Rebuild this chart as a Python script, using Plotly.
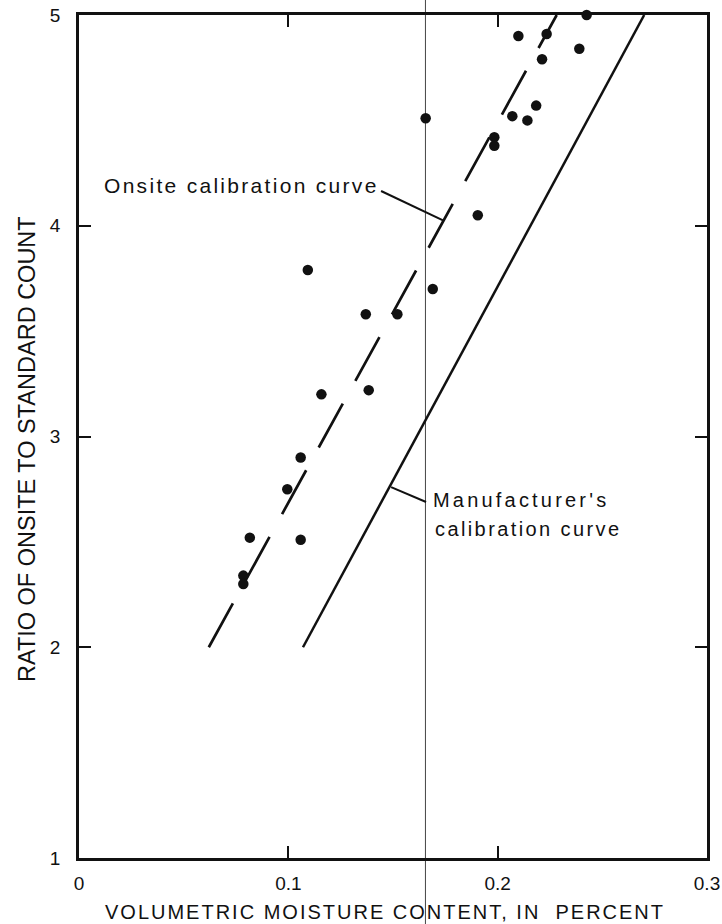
import plotly.graph_objects as go

# Measured points: volumetric moisture content vs. count ratio
moisture = [0.2425, 0.2099, 0.2234, 0.2390, 0.2212, 0.2184, 0.2070, 0.2142,
            0.1656, 0.1984, 0.1984, 0.1905, 0.1690, 0.1093, 0.1370, 0.1521,
            0.1158, 0.1384, 0.1059, 0.0995, 0.0816, 0.1059, 0.0785, 0.0785]
ratio = [5.00, 4.90, 4.91, 4.84, 4.79, 4.57, 4.52, 4.50,
         4.51, 4.42, 4.38, 4.05, 3.70, 3.79, 3.58, 3.58,
         3.20, 3.22, 2.90, 2.75, 2.52, 2.51, 2.34, 2.30]

# Calibration curves (end points)
onsite_x = [0.062, 0.2282]
onsite_y = [2.0, 5.0]
maker_x = [0.107, 0.270]
maker_y = [2.0, 5.0]

x_ticks = [0, 0.1, 0.2, 0.3]
x_tick_text = ["0", "0.1", "0.2", "0.3"]
y_ticks = [1, 2, 3, 4, 5]
y_tick_text = ["1", "2", "3", "4", "5"]

x_title = "VOLUMETRIC MOISTURE CONTENT, IN  PERCENT"
y_title = "RATIO OF ONSITE TO STANDARD COUNT"
onsite_label = "Onsite calibration curve"
maker_label_1 = "Manufacturer's"
maker_label_2 = "calibration curve"

FONT = "Liberation Sans, Arial, Helvetica, sans-serif"
INK = "#111111"


def spaced(text, px):
    return f'<span style="letter-spacing:{px}px">{text}</span>'


fig = go.Figure()

fig.add_trace(go.Scatter(
    x=onsite_x, y=onsite_y, mode="lines",
    line=dict(color=INK, width=2.7, dash="50px,26px"),
    hoverinfo="skip", showlegend=False))

fig.add_trace(go.Scatter(
    x=maker_x, y=maker_y, mode="lines",
    line=dict(color=INK, width=2.5),
    hoverinfo="skip", showlegend=False))

fig.add_trace(go.Scatter(
    x=moisture, y=ratio, mode="markers",
    marker=dict(color=INK, size=10.5, line=dict(width=0)),
    cliponaxis=False, showlegend=False))

# leader lines from the labels to the curves
fig.add_shape(type="line", xref="x", yref="y",
              x0=0.1443, y0=4.165, x1=0.1744, y1=4.023,
              line=dict(color=INK, width=2))
fig.add_shape(type="line", xref="x", yref="y",
              x0=0.1491, y0=2.760, x1=0.1658, y1=2.689,
              line=dict(color=INK, width=2))

# thin vertical crease running down the sheet
fig.add_shape(type="line", xref="x", yref="paper",
              x0=0.1655, x1=0.1655, y0=-0.08, y1=1.02,
              line=dict(color="#444444", width=1), layer="below")

fig.add_annotation(x=0.011, y=4.19, xref="x", yref="y",
                   text=spaced(onsite_label, 2.3), showarrow=False,
                   xanchor="left", yanchor="middle",
                   font=dict(family=FONT, size=21, color=INK))
fig.add_annotation(x=0.1683, y=2.70, xref="x", yref="y",
                   text=spaced(maker_label_1, 3.2), showarrow=False,
                   xanchor="left", yanchor="middle",
                   font=dict(family=FONT, size=20, color=INK))
fig.add_annotation(x=0.1693, y=2.562, xref="x", yref="y",
                   text=spaced(maker_label_2, 2.4), showarrow=False,
                   xanchor="left", yanchor="middle",
                   font=dict(family=FONT, size=20, color=INK))

# axis titles
fig.add_annotation(x=(385 - 79) / 628, y=-0.0641, xref="paper", yref="paper",
                   text=spaced(x_title, 2.0), showarrow=False,
                   xanchor="center", yanchor="middle",
                   font=dict(family=FONT, size=20, color=INK))
fig.add_annotation(x=(27 - 79) / 628, y=(858 - 449) / 843, xref="paper", yref="paper",
                   text=y_title, showarrow=False, textangle=-90,
                   xanchor="center", yanchor="middle",
                   font=dict(family=FONT, size=23.5, color=INK))

axis_common = dict(
    showgrid=False, zeroline=False, showline=True, linecolor=INK, linewidth=2.6,
    mirror="ticks", ticks="inside", ticklen=12, tickwidth=2, tickcolor=INK,
    tickfont=dict(family=FONT, size=19, color=INK), automargin=False,
)

fig.update_xaxes(range=[0, 0.3], tickmode="array", tickvals=x_ticks,
                 ticktext=x_tick_text, ticklabelstandoff=6, **axis_common)
fig.update_yaxes(range=[1, 5], tickmode="array", tickvals=y_ticks,
                 ticktext=y_tick_text, ticklabelstandoff=12, **axis_common)

fig.update_layout(
    width=722, height=924,
    margin=dict(l=79, r=15, t=15, b=66),
    paper_bgcolor="white", plot_bgcolor="white",
    showlegend=False,
)

fig.write_html("out.html")
